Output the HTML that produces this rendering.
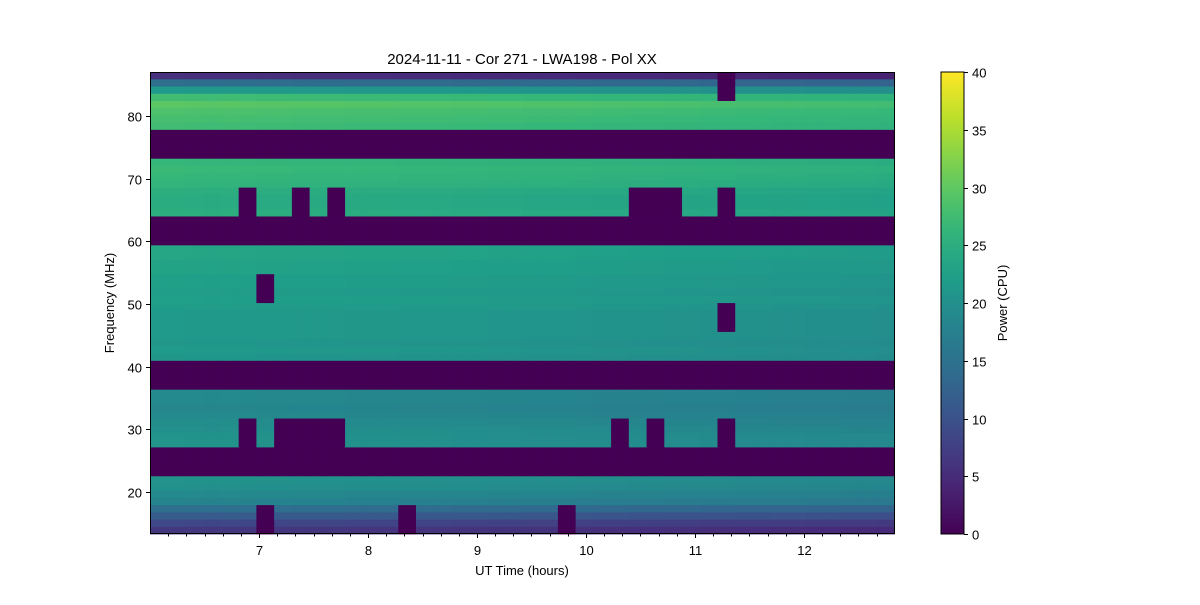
<!DOCTYPE html>
<html><head><meta charset="utf-8"><style>
body{margin:0;background:#fff;}
svg text{font-family:"Liberation Sans","DejaVu Sans",sans-serif;fill:#000;}
</style></head><body>
<svg id="chart" width="1200" height="600" xmlns="http://www.w3.org/2000/svg">
<rect width="1200" height="600" fill="#fff"/>
<text x="522" y="64" font-size="15" text-anchor="middle">2024-11-11 - Cor 271 - LWA198 - Pol XX</text>
<g id="heat"></g>
<rect x="150.5" y="72.5" width="744" height="461" fill="none" stroke="#000" stroke-width="1"/>
<g id="axes"></g>
<text x="522" y="575" font-size="13" text-anchor="middle">UT Time (hours)</text>
<text transform="translate(114,303) rotate(-90)" font-size="13" text-anchor="middle">Frequency (MHz)</text>
<defs><linearGradient id="vg" x1="0" y1="1" x2="0" y2="0"></linearGradient></defs>
<rect x="941" y="72" width="23" height="462" fill="url(#vg)" stroke="#000" stroke-width="1"/>
<g id="cbax"></g>
<text transform="translate(1007,303) rotate(-90)" font-size="13" text-anchor="middle">Power (CPU)</text>
</svg>
<script>
const NS="http://www.w3.org/2000/svg";
// data
const timeStart=6.0, timeStep=0.1627, nTimes=42;
const freqTop=87.0, freqBottom=13.3, nRows=16, chPerRow=4;
const channelPower=[5,14,21,27, 29,28,27.5,27, 0,0,0,0, 26,26.5,26,25.5,
 24.5,24,24,24.5, 0,0,0,0, 23,23,22.5,22.5, 22,22,21.5,22,
 21.5,21,21,21, 21,20.5,21,20.5, 0,0,0,0, 18.5,18.5,18,18.5,
 19,19.5,20,20, 0,0,0,0, 20,19.5,18.5,17.5, 14,11,8,6];
const timeOffset=[0.6,0.6,0.5,0.4,0.5,0.4,0.3,0.3,0.2,0.2,0.2,0.1,0.1,0.1,0,0,0,-0.1,-0.1,-0.2,-0.2,-0.3,-0.3,-0.3,-0.4,-0.5,-0.5,-0.6,-0.6,-0.7,-0.7,-0.8,-0.8,-0.9,-0.9,-1,-1,-1.1,-1.1,-1.2,-1.2,-1.3];
const fullMaskRows=[2,5,10,13];
const partialMasks={0:[32],4:[5,8,10,27,28,29,32],7:[6],8:[32],12:[5,7,8,9,10,26,28,32],15:[6,14,23]};
const xTicks=[7,8,9,10,11,12];
const yTicks=[20,30,40,50,60,70,80];
const cbTicks=[0,5,10,15,20,25,30,35,40];
const vmin=0,vmax=40;
// scales
const X=t=>150+(t-6)*109;
const Y=f=>116+(80-f)*6.267;
const CB=v=>534-(v-vmin)/(vmax-vmin)*462;
const vir=[[68,1,84],[72,40,120],[62,74,137],[49,104,142],[38,130,142],[31,158,137],[53,183,121],[109,205,89],[180,222,44],[253,231,37]];
function cmap(v){let u=Math.max(0,Math.min(1,(v-vmin)/(vmax-vmin)))*9;let i=Math.min(8,Math.floor(u)),f=u-i;
 const a=vir[i],b=vir[i+1];return `rgb(${a.map((c,k)=>Math.round(c+(b[k]-c)*f)).join(',')})`;}
const g=document.getElementById('heat');
const rowH=(freqTop-freqBottom)/nRows, chH=rowH/chPerRow;
for(let r=0;r<nRows;r++){
 const full=fullMaskRows.includes(r);
 const pm=partialMasks[r]||[];
 for(let c=0;c<chPerRow;c++){
  const fHi=freqTop-r*rowH-c*chH, fLo=fHi-chH;
  for(let t=0;t<nTimes;t++){
   const t0=timeStart+t*timeStep;
   const v=(full||pm.includes(t))?0:channelPower[r*chPerRow+c]+timeOffset[t];
   const x0=X(t0), x1=Math.min(X(t0+timeStep),894.5);
   const rc=document.createElementNS(NS,'rect');
   
   
   rc.setAttribute('x',x0);rc.setAttribute('y',Y(fHi));
   rc.setAttribute('width',x1-x0+0.4);rc.setAttribute('height',Y(fLo)-Y(fHi)+0.4);
   rc.setAttribute('fill',cmap(v));g.appendChild(rc);
  }
 }
}
const ax=document.getElementById('axes');
function line(x1,y1,x2,y2,name){const l=document.createElementNS(NS,'line');
 
 
 l.setAttribute('x1',x1);l.setAttribute('y1',y1);l.setAttribute('x2',x2);l.setAttribute('y2',y2);l.setAttribute('stroke','#000');ax.appendChild(l);}
function text(x,y,s,anchor,name,parent){const t=document.createElementNS(NS,'text');
 
 
 t.setAttribute('x',x);t.setAttribute('y',y);t.setAttribute('font-size','13');t.setAttribute('text-anchor',anchor);t.textContent=s;(parent||ax).appendChild(t);}
for(let m=6+1/6;m<12.83;m+=1/6){const x=Math.round(X(m))+0.5;line(x,534,x,536.5,'x-minor-tick');}
xTicks.forEach(v=>{const x=Math.round(X(v))+0.5;line(x,534,x,538,'x-tick');text(x,555,String(v),'middle','x-tick-label');});
yTicks.forEach(v=>{const y=Math.round(Y(v))+0.5;line(146,y,150,y,'y-tick');text(142,y+5,String(v),'end','y-tick-label');});
const gr=document.getElementById('vg');
for(let i=0;i<=20;i++){const s=document.createElementNS(NS,'stop');s.setAttribute('offset',i/20);s.setAttribute('stop-color',cmap(vmin+(vmax-vmin)*i/20));gr.appendChild(s);}
cbTicks.forEach(v=>{const y=Math.round(CB(v))+0.5;line(964,y,968,y,'colorbar-tick');text(972,y+5,String(v),'start','colorbar-tick-label');});
</script>
</body></html>
